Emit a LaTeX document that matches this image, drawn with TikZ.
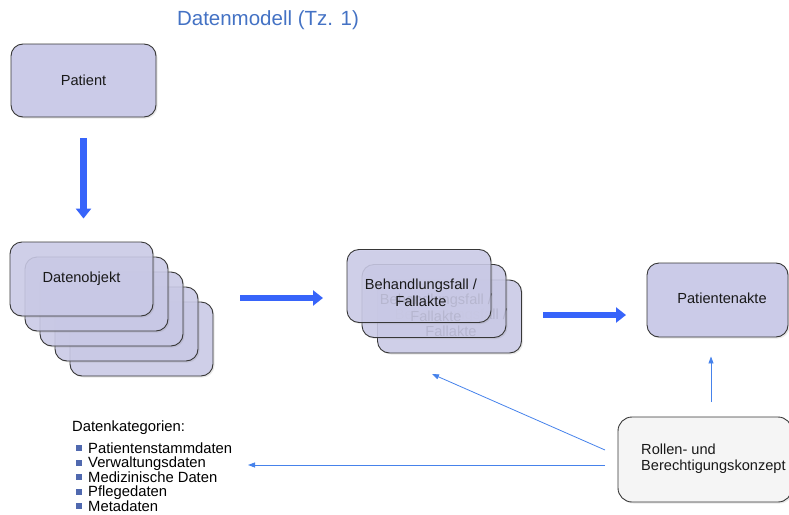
\documentclass[tikz,border=0pt]{standalone}
\usepackage{fontspec}
\setmainfont{Liberation Sans}
\usetikzlibrary{arrows.meta,shadows}
\definecolor{boxfill}{RGB}{203,203,232}
\definecolor{boxline}{RGB}{55,55,55}
\definecolor{rollfill}{RGB}{245,245,245}
\definecolor{thickblue}{RGB}{55,100,250}
\definecolor{thinblue}{RGB}{70,130,235}
\definecolor{titleblue}{RGB}{68,114,196}
\definecolor{bulletblue}{RGB}{80,105,175}
\definecolor{txt}{RGB}{25,25,25}
\tikzset{
  card/.style={draw=boxline, line width=0.9pt, fill=boxfill, fill opacity=0.87,
    text opacity=1, rounded corners=12pt, minimum width=143pt, minimum height=74pt,
    inner sep=0pt, text=txt, font=\fontsize{14.6}{16.5}\selectfont,
    drop shadow={shadow xshift=1.5pt,shadow yshift=-1.5pt,opacity=0.18}},
  lbl/.style={text=txt, font=\fontsize{14.6}{16.5}\selectfont, align=center, inner sep=0pt},
  thickarrow/.style={draw=thickblue, line width=6.5pt, -{Triangle[width=15pt,length=10pt]}},
  thinarrow/.style={draw=thinblue, line width=0.8pt, -{Triangle[width=5pt,length=7pt]}},
  item/.style={anchor=base west, inner sep=0pt, text height=10pt, text depth=3pt, text=black, font=\fontsize{14.8}{14.6}\selectfont},
  bulletsq/.style={fill=bulletblue, minimum size=6pt, inner sep=0pt},
}
\begin{document}
\begin{tikzpicture}[x=1pt,y=-1pt]
\useasboundingbox (0,0) rectangle (789,514);

% title
\node[text=titleblue, font=\fontsize{20.5}{24}\selectfont] (title) at (268,20) {Datenmodell (Tz. 1)};

% patient
\node[card, fill opacity=1, minimum width=145pt, minimum height=73pt] (patient) at (83.5,80.5) {Patient};

% Datenobjekt stack (back to front)
\node[card] (d5) at (141.5,339) {};
\node[card] (d4) at (126.5,324) {};
\node[card] (d3) at (111.5,309) {};
\node[card] (d2) at (96.5,294) {};
\node[card] (d1) at (81.5,279) {Datenobjekt};

% Behandlungsfall stack
\node[card, minimum width=144pt, minimum height=73pt] (b3) at (449.5,316.5) {};
\node[lbl] (b3t) at (451,323) {Behandlungsfall /\\Fallakte};
\node[card, minimum width=144pt, minimum height=73pt] (b2) at (434,301) {};
\node[lbl] (b2t) at (436,308) {Behandlungsfall /\\Fallakte};
\node[card, minimum width=144pt, minimum height=73pt] (b1) at (419,286) {};
\node[lbl] (b1t) at (421,293) {Behandlungsfall /\\Fallakte};

% Patientenakte
\node[card, fill opacity=1, minimum width=141pt, minimum height=74pt] (pakte) at (717.5,300) {};
\node[lbl] (paktet) at (722,298) {Patientenakte};

% Rollen
\node[card, fill=rollfill, fill opacity=1, rounded corners=14pt, minimum width=174pt, minimum height=85pt] (rollen) at (705,459.5) {};
\node[lbl, anchor=west, align=left] (rollent) at (641,458.5) {Rollen- und\\Berechtigungskonzept};

% thick arrows
\draw[thickarrow, shorten <=21pt, shorten >=23pt] (patient.south) -- (d1.north -| patient.south);
\coordinate (t2a) at (240,298);
\coordinate (t2b) at (323,298);
\draw[thickarrow] (t2a) -- (t2b);
\coordinate (t3a) at (543,315);
\coordinate (t3b) at (626,315);
\draw[thickarrow] (t3a) -- (t3b);

% thin arrows
\coordinate (r1) at (711,402);
\draw[thinarrow, shorten >=19pt] (r1) -- (pakte.south -| r1);
\coordinate (r2) at (605,450);
\coordinate (bt) at (432,374);
\draw[thinarrow] (r2) -- (bt);
\coordinate (r3) at (605,465);
\coordinate (cat) at (248,465);
\draw[thinarrow] (r3) -- (cat);

% categories
\node[item] (cathead) at (72,431.5) {Datenkategorien:};
\foreach \n/\yy/\t in {c1/448/Patientenstammdaten, c2/462.5/Verwaltungsdaten, c3/477/Medizinische Daten, c4/491.5/Pflegedaten, c5/506/Metadaten}{
  \node[bulletsq] (\n b) at (78.5,\yy) {};
  \node[item] (\n) at (88,\yy+5.3) {\t};
}
\end{tikzpicture}
\end{document}
